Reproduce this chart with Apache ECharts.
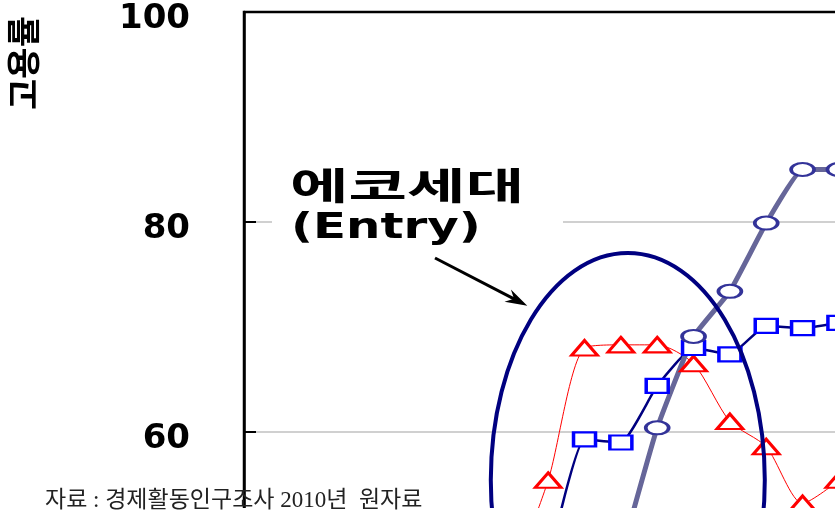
<!DOCTYPE html>
<html>
<head>
<meta charset="utf-8">
<script src="https://cdn.jsdelivr.net/npm/echarts@6/dist/echarts.min.js"></script>
<style>
html,body{margin:0;padding:0;background:#fff;}
#chart{width:835px;height:521px;}
</style>
</head>
<body>
<div id="chart"></div>
<script>
// ---- data ----
const ages = [22, 23, 24, 25, 26, 27, 28, 29, 30, 31];
const seriesTriangle = [46.0, 55.4, 68.0, 68.3, 68.3, 66.5, 61.0, 58.6, 53.2, 55.4];
const seriesSquare   = [null, 47.4, 59.3, 59.0, 64.4, 68.0, 67.4, 70.1, 69.9, 70.4];
const seriesCircle   = [null, null, null, 48.2, 60.4, 69.1, 73.4, 79.9, 85.0, 85.0];
const yTickLabels = ['40', '60', '80', '100'];
const yTitle = '고용률';
const noteText = '에코세대';
const noteText2 = '(Entry)';
const sourceText = '자료 : 경제활동인구조사 2010년  원자료';

function pairs(arr) { return ages.map((a, i) => [a, arr[i]]).filter(p => p[1] !== null); }

const chart = echarts.init(document.getElementById('chart'));
const option = {
  animation: false,
  backgroundColor: '#fff',
  grid: { left: 244, top: 12, width: 922, height: 630, show: true, borderColor: '#000', borderWidth: 2.5,
          containLabel: false, outerBoundsMode: 'none' },
  xAxis: { type: 'value', min: 14.63, max: 40, show: false },
  yAxis: {
    type: 'value', min: Number(yTickLabels[0]), max: Number(yTickLabels[yTickLabels.length - 1]), interval: 20,
    axisLine: { show: true, lineStyle: { color: '#000', width: 2.5 } },
    axisTick: { show: true, inside: true, length: 12, lineStyle: { color: '#000', width: 2 } },
    splitLine: { show: true, lineStyle: { color: ['#c0c0c0', '#c0c0c0', '#c0c0c0', '#000'], width: 1.5 } },
    axisLabel: {
      fontFamily: 'DejaVu Sans', fontWeight: 'bold', fontSize: 34, color: '#000',
      margin: 54, verticalAlign: 'top', lineHeight: 14,
      formatter: v => yTickLabels.includes(String(v)) ? String(v) : ''
    }
  },
  series: [
    {
      name: '여성', type: 'line', data: pairs(seriesTriangle), smooth: 0.25,
      symbol: 'triangle', symbolSize: [26, 15], showAllSymbol: true,
      lineStyle: { color: '#ff0000', width: 1 },
      itemStyle: { color: '#fff', borderColor: '#ff0000', borderWidth: 2.8 }
    },
    {
      name: '전체', type: 'line', data: pairs(seriesSquare), smooth: 0.15,
      symbol: 'rect', symbolSize: [22, 14], showAllSymbol: true,
      lineStyle: { color: '#000080', width: 2.5 },
      itemStyle: { color: '#fff', borderColor: '#0000ff', borderWidth: 2.8 }
    },
    {
      name: '남성', type: 'line', data: pairs(seriesCircle), smooth: 0.12,
      symbol: 'circle', symbolSize: [23, 13], showAllSymbol: true,
      lineStyle: { color: '#666699', width: 5 },
      itemStyle: { color: '#fff', borderColor: '#333399', borderWidth: 2.8 }
    }
  ],
  graphic: [
    { type: 'rect', z: 3, shape: { x: 272, y: 150, width: 291, height: 105 }, style: { fill: '#fff' } },
    { type: 'text', z: 4, x: 290, y: 186, scaleX: 1.72,
      style: { text: noteText, font: 'bold 37px "Noto Sans CJK KR"', fill: '#000', textAlign: 'left', textVerticalAlign: 'middle', align: 'left', verticalAlign: 'middle' } },
    { type: 'text', z: 4, x: 291, y: 229, scaleX: 1.38,
      style: { text: noteText2, font: 'bold 35px "DejaVu Sans"', fill: '#000', textAlign: 'left', textVerticalAlign: 'middle', align: 'left', verticalAlign: 'middle' } },
    { type: 'line', z: 4, shape: { x1: 435, y1: 258, x2: 514, y2: 298.8 }, style: { stroke: '#000', lineWidth: 3 } },
    { type: 'polygon', z: 4, shape: { points: [[527.3, 305.7], [504.5, 301.8], [514, 298.8], [510.9, 289.4]] }, style: { fill: '#000' } },
    { type: 'ellipse', z: 10, shape: { cx: 627.8, cy: 480, rx: 137, ry: 227 }, style: { fill: 'none', stroke: '#000080', lineWidth: 4 } },
    { type: 'text', z: 4, x: 23, y: 63, rotation: Math.PI / 2,
      style: { text: yTitle, font: 'bold 34px "Noto Sans CJK KR"', fill: '#000', textAlign: 'center', textVerticalAlign: 'middle', align: 'center', verticalAlign: 'middle' } },
    { type: 'rect', z: 20, shape: { x: 0, y: 508, width: 835, height: 13 }, style: { fill: '#fff' } },
    { type: 'text', z: 21, x: 45, y: 501,
      style: { text: sourceText, font: '23px "Liberation Serif", "Noto Sans CJK KR"', fill: '#222', textAlign: 'left', textVerticalAlign: 'middle', align: 'left', verticalAlign: 'middle' } }
  ]
};
chart.setOption(option);
</script>
</body>
</html>
